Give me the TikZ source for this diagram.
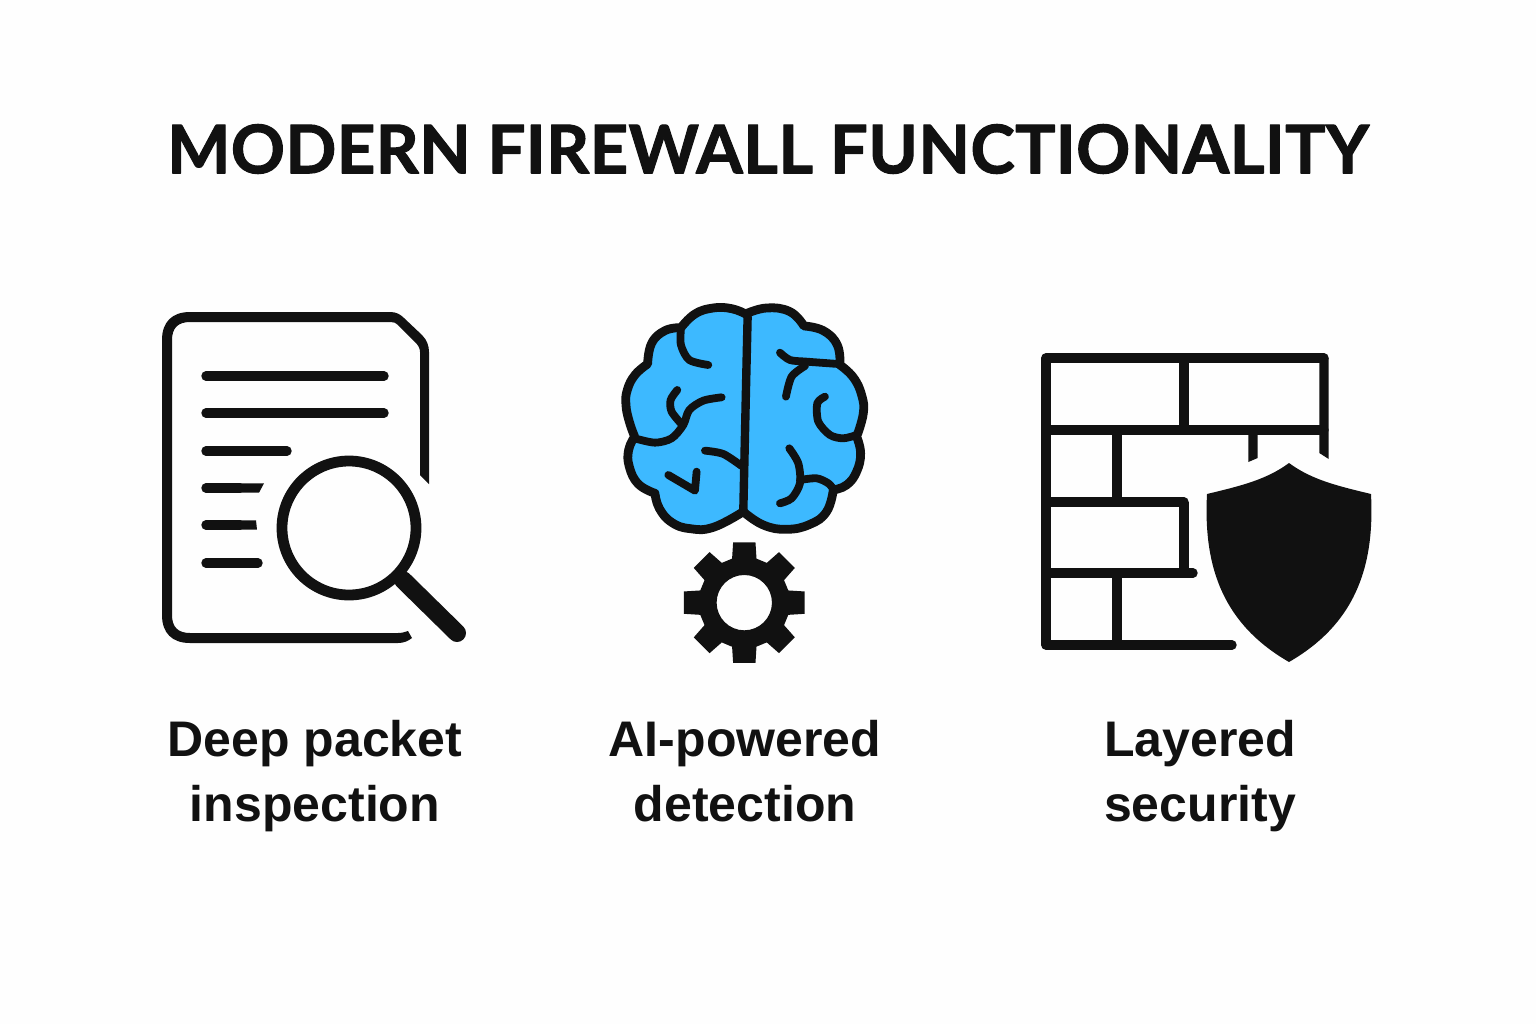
\documentclass[tikz,border=0pt]{standalone}
\usepackage{fontspec}
\setmainfont{Liberation Sans}
\newfontfamily\titlefont{Lato}[LetterSpace=0.6,BoldFeatures={FakeBold=1.6}]
\definecolor{ink}{HTML}{111111}
\definecolor{brainblue}{HTML}{3DB9FF}
\begin{document}
\begin{tikzpicture}[x=0.5pt,y=-0.5pt,line join=round,
  ink line/.style={draw=ink,line width=4.7pt,line cap=round},
  fold/.style={draw=ink,line width=3.9pt,line cap=round},
  zoomed/.style={x=0.5pt/3,y=-0.5pt/3},
  title text/.style={font=\titlefont\bfseries\fontsize{33.5}{40}\selectfont,text=ink,inner sep=0pt},
  label text/.style={font=\bfseries\fontsize{25}{32.5}\selectfont,text=ink,align=center,inner sep=0pt}]
\fill[white!99.5!black] (0,0) rectangle (1536,1024);
\useasboundingbox (0,0) rectangle (1536,1024);
\node[title text] (title) at (768,149) {MODERN FIREWALL FUNCTIONALITY};
% document
\fill[ink] (408,631) -- (412,638) .. controls (408,641) and (404,643) .. (398,643) -- (190,643)
  .. controls (172,643) and (162,633) .. (162,615) -- (162,340) .. controls (162,322) and (172,312) .. (190,312)
  -- (390,312) .. controls (396,312) and (400,314) .. (404,318) -- (422,335)
  .. controls (427,340) and (429,346) .. (429,352) -- (429,484) -- (420,475) -- (420,352)
  .. controls (420,348) and (418,345) .. (415,342) -- (398,325) .. controls (396,323) and (394,322) .. (391,322)
  -- (190,322) .. controls (178,322) and (172,328) .. (172,340) -- (172,615)
  .. controls (172,627) and (178,633) .. (190,633) -- (398,633) .. controls (402,633) and (405,632) .. (408,631) -- cycle;
\foreach \ya/\xe in {376/384,413/384,451/287,563/258}
  \draw[ink line] (206,\ya) -- (\xe,\ya);
\draw[ink line] (206,488) -- (240,488);
\fill[ink] (240,483.3) -- (264,483.3) -- (259,492.7) -- (240,492.7) -- cycle;
\draw[ink line] (206,525) -- (240,525);
\fill[ink] (240,520.3) -- (256,520.3) -- (257,529.7) -- (240,529.7) -- cycle;
\draw[draw=ink,line width=5.4pt] (349,528) circle (67);
\draw[draw=ink,line width=9pt,line cap=round] (403,580) -- (457,633);
% brain
\begin{scope}[zoomed,shift={(1800,870)}]
\path[fill=brainblue,draw=ink,line width=4.4pt]
 plot[smooth,tension=.75] coordinates {(437,72)(395,56)(340,54)(285,72)(243,113)}
 -- plot[smooth,tension=.75] coordinates {(243,113)(195,122)(155,160)(143,222)}
 -- plot[smooth,tension=.75] coordinates {(143,222)(105,255)(82,300)(78,345)(88,395)(104,440)}
 -- plot[smooth,tension=.75] coordinates {(104,440)(86,480)(88,530)(115,582)(165,610)}
 -- plot[smooth,tension=.75] coordinates {(165,610)(178,655)(215,697)(270,716)(340,712)(430,665)}
 -- plot[smooth,tension=.75] coordinates {(430,665)(490,705)(560,718)(630,703)(680,665)(700,600)}
 -- plot[smooth,tension=.75] coordinates {(700,600)(740,585)(770,545)(782,490)(770,440)}
 -- plot[smooth,tension=.75] coordinates {(770,440)(790,370)(785,315)(760,262)(720,225)}
 -- plot[smooth,tension=.75] coordinates {(720,225)(712,165)(670,122)(612,108)}
 -- plot[smooth,tension=.75] coordinates {(612,108)(570,65)(500,54)(437,72)} -- cycle;
\draw[fold,line width=4.2pt] plot[smooth] coordinates {(443,80)(438,300)(430,665)};
\draw[fold] plot[smooth] coordinates {(243,115)(243,165)(268,210)(325,225)};
\draw[fold] plot[smooth] coordinates {(232,300)(212,330)(215,365)(247,405)};
\draw[fold] plot[smooth] coordinates {(365,322)(310,332)(268,360)(250,405)(215,445)(165,458)(104,445)};
\draw[fold] plot[smooth] coordinates {(315,482)(370,492)(425,528)};
\draw[fold] (205,555) -- (285,602) -- (290,545);
\draw[fold] plot[smooth] coordinates {(540,188)(570,210)(620,215)(715,222)};
\draw[fold] plot[smooth] coordinates {(615,228)(575,260)(558,320)};
\draw[fold] plot[smooth] coordinates {(675,320)(652,340)(655,395)(690,435)(730,445)(770,435)};
\draw[fold] plot[smooth] coordinates {(568,475)(595,520)(600,580)(575,625)(540,640)};
\draw[fold] plot[smooth] coordinates {(600,570)(650,565)(685,580)(702,600)};
% gear
\fill[ink,even odd rule,shift={(433,938)}] (107:137)
 \foreach \a in {90,45,0,-45,-90,-135,-180,-225} { -- (\a+15.5:137) -- (\a+10.5:184) -- (\a-10.5:184) -- (\a-15.5:137) }
 -- cycle (0,0) circle (83);
\end{scope}
% wall
\draw[ink line] (1232,645) -- (1046,645) -- (1046,358) -- (1324,358);
\fill[ink] (1319.3,358) -- (1319.3,453) -- (1328.7,459) -- (1328.7,358) -- cycle;
\foreach \ya/\xe in {430/1324,502/1184,573/1193}
  \draw[ink line] (1046,\ya) -- (\xe,\ya);
\draw[ink line,line cap=butt] (1184,358) -- (1184,430);
\draw[ink line,line cap=butt] (1117,430) -- (1117,502);
\draw[ink line,line cap=butt] (1184,502) -- (1184,573);
\draw[ink line,line cap=butt] (1117,573) -- (1117,645);
\fill[ink] (1248.3,430) -- (1257.7,430) -- (1257.7,458) -- (1248.3,462) -- cycle;
% shield
\fill[ink] (1289,463) .. controls (1266,480) and (1240,486) .. (1207,494)
  .. controls (1203,570) and (1225,625) .. (1289,662)
  .. controls (1353,625) and (1375,570) .. (1371,494)
  .. controls (1338,486) and (1312,480) .. (1289,463) -- cycle;
% labels
\node[label text] (l1) at (315,775.5) {\strut Deep packet\\inspection\strut};
\node[label text] (l2) at (745,775.5) {\strut AI-powered\\detection\strut};
\node[label text] (l3) at (1200,775.5) {\strut Layered\\security\strut};
\end{tikzpicture}
\end{document}
